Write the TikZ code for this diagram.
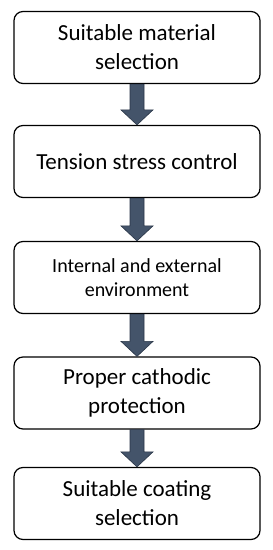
\documentclass[tikz,border=0pt]{standalone}
\usepackage{fontspec}
\setmainfont{Carlito}
\usetikzlibrary{calc}
\definecolor{arrowfill}{RGB}{68,84,106}
\definecolor{arrowline}{RGB}{40,52,70}
\tikzset{
  stepbox/.style={draw,line width=1.2pt,fill=white,rounded corners=9pt,
    minimum width=246pt,minimum height=72pt,align=center,
    font=\fontsize{23}{29}\selectfont},
  flowarrow/.style={fill=arrowfill,draw=arrowline,line width=0.6pt,line join=miter}
}
\begin{document}
\begin{tikzpicture}[x=1pt,y=1pt]
  \useasboundingbox (0,0) rectangle (273,550);
  %% Steps
  \node[stepbox] (material) at (137,502.5) {Suitable material\\selection};
  \node[stepbox] (tension)  at (137,388.5) {Tension stress control};
  \node[stepbox,font=\fontsize{20}{24}\selectfont]
        (environ)  at (137,272.5) {Internal and external\\environment};
  \node[stepbox] (cathodic) at (137,157)   {Proper cathodic\\protection};
  \node[stepbox] (coating)  at (137,46.5)  {Suitable coating\\selection};
  %% Block arrows between steps
  \foreach \a/\b in {material/tension,tension/environ,environ/cathodic,cathodic/coating}
    \draw[flowarrow] ($(\a.south)+(-7,0)$) -- ($(\b.north)+(-7,15)$) -- ++(-9,0)
      -- (\b.north) -- ++(16,15) -- ++(-9,0) -- ($(\a.south)+(7,0)$) -- cycle;
\end{tikzpicture}
\end{document}
